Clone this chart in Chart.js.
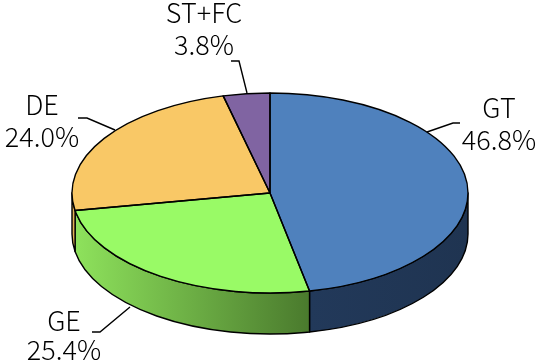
<!DOCTYPE html>
<html>
<head>
<meta charset="utf-8">
<style>
  html, body { margin: 0; padding: 0; background: #ffffff; }
  #wrap { width: 540px; height: 363px; }
</style>
<script src="https://cdn.jsdelivr.net/npm/chart.js@4/dist/chart.umd.min.js"></script>
</head>
<body>
<div id="wrap"><canvas id="c" width="540" height="363"></canvas></div>
<script>
// ---- data ----
const categories = ['GT', 'GE', 'DE', 'ST+FC'];
const shares = [46.8, 25.4, 24.0, 3.8];
const shareLabels = ['46.8%', '25.4%', '24.0%', '3.8%'];

// ---- styles ----
const topColors = ['#4F81BD', '#99FA66', '#F9C866', '#8064A2'];
const sideColors = [
  ['#22395A', '#1F3451'],
  ['#8EE25C', '#4A7A2D'],
  ['#D8A650', '#EDBA5E'],
  ['#6A5088', '#5A437A']
];
const DEPTH = 41;
const FONT = '300 27px "Noto Sans CJK JP", "Noto Sans", sans-serif';

// label layout: [centerX, baseline1, baseline2], leader polyline
const labelLayout = [
  { x: 499, b1: 118, b2: 150, leader: [[427, 132], [453, 123], [460, 123]] },
  { x: 64,  b1: 331, b2: 360, leader: [[130, 307], [100, 332], [92, 332]] },
  { x: 42,  b1: 115, b2: 147, leader: [[115, 130], [87, 118], [78, 118]] },
  { x: 204, b1: 23,  b2: 55,  leader: [[247, 93], [239, 61], [231, 61]] }
];

function geom(chart) {
  const meta = chart.getDatasetMeta(0);
  const a = meta.data[0];
  const ca = chart.chartArea;
  const ry = a.outerRadius;
  const rx = (ca.right - ca.left) / 2;
  return { cx: a.x, cy: a.y, rx, ry, sx: rx / ry, arcs: meta.data };
}

const pie3d = {
  id: 'pie3d',
  beforeDatasetsDraw(chart) {
    const ctx = chart.ctx;
    const g = geom(chart);
    g.arcs.forEach((arc, i) => {
      const a0 = arc.startAngle, a1 = arc.endAngle;
      for (let k = -1; k <= 1; k++) {
        const lo = Math.max(a0, 2 * Math.PI * k);
        const hi = Math.min(a1, 2 * Math.PI * k + Math.PI);
        if (hi - lo <= 1e-6) continue;
        const xl = g.cx + g.rx * Math.cos(lo), xh = g.cx + g.rx * Math.cos(hi);
        const grad = ctx.createLinearGradient(Math.min(xl, xh), 0, Math.max(xl, xh) + 0.01, 0);
        grad.addColorStop(0, sideColors[i][0]);
        grad.addColorStop(1, sideColors[i][1]);
        ctx.save();
        ctx.beginPath();
        ctx.ellipse(g.cx, g.cy, g.rx, g.ry, 0, lo, hi, false);
        ctx.ellipse(g.cx, g.cy + DEPTH, g.rx, g.ry, 0, hi, lo, true);
        ctx.closePath();
        ctx.fillStyle = grad;
        ctx.fill();
        ctx.lineWidth = 1.4;
        ctx.strokeStyle = '#000';
        ctx.lineJoin = 'round';
        ctx.stroke();
        ctx.restore();
      }
    });
    ctx.save();
    ctx.translate(g.cx, 0);
    ctx.scale(g.sx, 1);
    ctx.translate(-g.cx, 0);
  },
  afterDatasetsDraw(chart) {
    const ctx = chart.ctx;
    ctx.restore();
    const g = geom(chart);
    ctx.save();
    ctx.lineWidth = 1.4;
    ctx.strokeStyle = '#000';
    ctx.lineJoin = 'round';
    g.arcs.forEach(arc => {
      ctx.beginPath();
      ctx.moveTo(g.cx, g.cy);
      ctx.ellipse(g.cx, g.cy, g.rx, g.ry, 0, arc.startAngle, arc.endAngle, false);
      ctx.closePath();
      ctx.stroke();
    });
    ctx.restore();
  },
  afterDraw(chart) {
    const ctx = chart.ctx;
    ctx.save();
    ctx.strokeStyle = '#000';
    ctx.lineWidth = 1.4;
    labelLayout.forEach((L, i) => {
      ctx.beginPath();
      L.leader.forEach((p, j) => j ? ctx.lineTo(p[0], p[1]) : ctx.moveTo(p[0], p[1]));
      ctx.stroke();
      ctx.fillStyle = '#000';
      ctx.font = FONT;
      ctx.textAlign = 'center';
      ctx.textBaseline = 'alphabetic';
      ctx.fillText(categories[i], L.x, L.b1);
      ctx.fillText(shareLabels[i], L.x, L.b2);
    });
    ctx.restore();
  }
};

new Chart(document.getElementById('c'), {
  type: 'pie',
  data: {
    labels: categories,
    datasets: [{
      data: shares,
      backgroundColor: topColors,
      borderWidth: 0,
      clip: false
    }]
  },
  options: {
    responsive: false,
    animation: false,
    devicePixelRatio: 1,
    layout: { padding: { left: 72, right: 72, top: 93, bottom: 70 } },
    plugins: {
      legend: { display: false },
      tooltip: { enabled: false }
    }
  },
  plugins: [pie3d]
});
</script>
</body>
</html>
